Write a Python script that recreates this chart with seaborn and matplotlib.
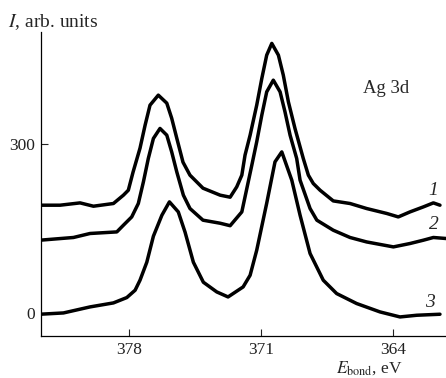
import numpy as np
import pandas as pd
import seaborn as sns
import matplotlib.pyplot as plt

# DATA (binding energy in eV, intensity in arb. units)
energy_1 = [382.72, 381.66, 380.60, 379.89, 378.83, 378.30, 378.04, 377.79, 377.42,
            377.15, 376.89, 376.45, 376.00, 375.74, 375.47, 375.14, 374.77, 374.08,
            373.17, 372.64, 372.29, 372.02, 371.85, 371.58, 371.23, 370.96, 370.70,
            370.43, 370.08, 369.82, 369.55, 369.20, 368.76, 368.49, 368.23, 367.87,
            367.17, 366.28, 365.40, 364.33, 363.72, 363.10, 362.39, 361.86, 361.51]
intensity_1 = [191.2, 191.2, 195.3, 189.4, 194.2, 209.0, 217.8, 249.8, 292.4,
               333.2, 368.7, 386.5, 372.3, 345.6, 310.1, 267.5, 244.5, 221.4,
               209.0, 205.4, 223.7, 244.5, 280.0, 315.5, 368.7, 416.1, 457.5,
               478.3, 457.5, 422.0, 374.6, 327.4, 274.1, 244.5, 229.7, 217.8,
               198.8, 194.2, 185.3, 176.5, 170.4, 179.3, 188.2, 195.3, 191.2]

energy_2 = [382.72, 380.95, 380.07, 378.65, 378.30, 377.86, 377.51, 377.24, 376.98,
            376.71, 376.36, 376.00, 375.74, 375.47, 375.12, 374.77, 374.08, 373.17,
            372.64, 372.02, 371.49, 371.23, 370.96, 370.70, 370.35, 369.99, 369.73,
            369.46, 369.11, 368.93, 368.40, 368.04, 367.17, 366.28, 365.40, 363.98,
            363.10, 362.39, 361.86, 361.19]
intensity_2 = [129.1, 133.9, 141.0, 143.8, 155.7, 170.4, 194.2, 232.6, 274.1,
               309.6, 327.4, 315.5, 285.8, 250.3, 209.0, 185.3, 164.6, 159.2,
               154.8, 179.3, 262.2, 303.6, 351.0, 392.3, 413.1, 392.3, 356.8,
               315.5, 274.1, 235.6, 185.3, 164.6, 146.8, 133.9, 126.0, 117.2,
               123.2, 129.1, 133.9, 132.1]

energy_3 = [382.72, 381.48, 380.07, 378.83, 378.12, 377.68, 377.42, 377.06, 376.71,
            376.26, 375.86, 375.39, 375.03, 374.59, 374.06, 373.35, 372.75, 371.95,
            371.58, 371.23, 370.70, 370.26, 369.90, 369.37, 368.93, 368.40, 367.70,
            366.99, 365.93, 364.69, 363.63, 362.74, 361.51]
intensity_3 = [-2.3, 0.0, 10.7, 17.8, 27.3, 40.3, 58.1, 90.0, 136.2,
               173.4, 197.1, 179.3, 143.3, 90.0, 54.5, 37.3, 28.4, 46.2,
               66.9, 111.3, 194.7, 268.1, 285.8, 235.6, 173.4, 105.5, 58.1,
               34.4, 16.7, 1.8, -7.1, -4.1, -2.3]

curve_labels = ["1", "2", "3"]
label_x = [361.86, 361.86, 362.04]
label_y = [217.8, 156.9, 18.5]

x_ticks = [378, 371, 364]
y_ticks = [0, 300]

# STYLE
sns.set_style("ticks")
plt.rcParams["font.family"] = ["Liberation Serif", "DejaVu Serif"]
plt.rcParams["mathtext.fontset"] = "stix"

fig = plt.figure(figsize=(4.46, 3.78), dpi=100)
ax = fig.add_axes([0.092, 0.111, 0.908, 0.805])

for e, i in [(energy_1, intensity_1), (energy_2, intensity_2), (energy_3, intensity_3)]:
    sns.lineplot(x=e, y=i, ax=ax, color="black", linewidth=2.5, estimator=None,
                 sort=False)
for line in ax.get_lines():
    line.set_solid_joinstyle("round")
    line.set_solid_capstyle("round")

ax.set_xlim(382.67, 361.19)
ax.set_ylim(-41, 499)
ax.set_xticks(x_ticks)
ax.set_yticks(y_ticks)
ax.tick_params(direction="in", length=5, width=0.8, labelsize=12.5, colors="#222222", pad=4)
for side in ["top", "right"]:
    ax.spines[side].set_visible(False)
for side in ["left", "bottom"]:
    ax.spines[side].set_linewidth(0.9)
    ax.spines[side].set_color("black")

for lab, lx, ly in zip(curve_labels, label_x, label_y):
    ax.text(lx, ly, lab, fontsize=14, style="italic", ha="center", va="center")

ax.text(0.852, 0.812, "Ag 3d", transform=ax.transAxes, fontsize=13.5, ha="center", va="center")

fig.text(0.018, 0.942, r"$I$, arb. units", fontsize=14, ha="left", va="center")
fig.text(0.828, 0.003, r"$E_{\mathrm{bond}}$, eV", fontsize=12.5, ha="center", va="bottom")

plt.savefig("out.png", dpi=100)
plt.close()
